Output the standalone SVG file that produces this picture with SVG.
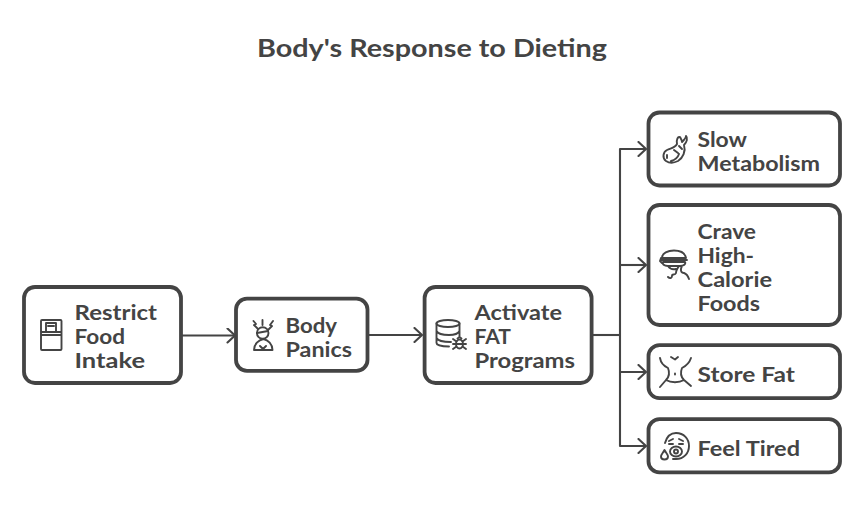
<svg xmlns="http://www.w3.org/2000/svg" width="864" height="521" viewBox="0 0 864 521">
<style>
text{font-family:"Lato","Liberation Sans",sans-serif;font-weight:700;fill:#444;font-size:20px}
.t{font-size:25px}
.box{fill:#fff;stroke:#444;stroke-width:3.8}
.c{fill:none;stroke:#444;stroke-width:2.1;stroke-linejoin:round}
.i{fill:none;stroke:#444;stroke-width:1.9;stroke-linecap:round;stroke-linejoin:round}
</style>
<defs>
<marker id="a" viewBox="0 0 10 16" refX="9.500" refY="8" markerWidth="10" markerHeight="16" markerUnits="userSpaceOnUse" orient="auto"><path d="M2 1L9.500 8L2 15" fill="none" stroke="#444" stroke-width="2.100" stroke-linecap="round"/></marker>
</defs>
<rect width="864" height="521" fill="#fff"/>
<text class="t" x="257" y="57" textLength="350" lengthAdjust="spacingAndGlyphs">Body's Response to Dieting</text>
<g id="connectors">
<path class="c" d="M181 335.500H235" marker-end="url(#a)"/>
<path class="c" d="M369 335H422" marker-end="url(#a)"/>
<path class="c" d="M593 335H620"/>
<path class="c" d="M620 335V149H646" marker-end="url(#a)"/>
<path class="c" d="M620 265H646" marker-end="url(#a)"/>
<path class="c" d="M620 335V372H646" marker-end="url(#a)"/>
<path class="c" d="M620 372V446H646" marker-end="url(#a)"/>
</g>
<g id="n1">
<rect class="box" x="24" y="287" width="157" height="96" rx="11"/>
<path class="i" d="M42 320H60.500Q61.500 320 61.500 321V349Q61.500 350 60.500 350H42Q41 350 41 349V321Q41 320 42 320ZM41 335H61.500M41 332H61.500M46 331V323H56V331M48 326H54"/>
<text x="74.500" y="320" textLength="82.500" lengthAdjust="spacingAndGlyphs">Restrict</text>
<text x="74.500" y="344" textLength="50.500" lengthAdjust="spacingAndGlyphs">Food</text>
<text x="74.500" y="368" textLength="70.500" lengthAdjust="spacingAndGlyphs">Intake</text>
</g>
<g id="n2">
<rect class="box" x="236" y="298.600" width="131.500" height="72.300" rx="11"/>
<path class="i" d="M253.500 321L256 324L254 325L258 329M262.500 320V325M273 321L270 325L272 326L268 330"/>
<circle class="i" cx="262.700" cy="333" r="5.800"/>
<path class="i" d="M257 333L268 331M254 350H272.500C272.500 344 268 340 263.500 339C258.500 340 254 344 254 350ZM260 346L263 349L266 346"/>
<text x="285.500" y="333" textLength="51.500" lengthAdjust="spacingAndGlyphs">Body</text>
<text x="285.500" y="357" textLength="66.500" lengthAdjust="spacingAndGlyphs">Panics</text>
</g>
<g id="n3">
<rect class="box" x="424.600" y="287" width="167" height="96" rx="11"/>
<ellipse class="i" cx="448" cy="323.500" rx="11.500" ry="3.500"/>
<path class="i" d="M436.500 323.500V343C436.500 345 441 346.500 449 346.500M436.500 331C438 334 444 335 449 335C454 335 458 334 459.500 331V323.500M436.500 338C438 341 444 342 451 342M459.500 331V336"/>
<ellipse class="i" cx="459.500" cy="344" rx="3.500" ry="4.500"/>
<path class="i" d="M456 344H463M453 339L456.500 341.500M466 339L462.500 341.500M453 344H456M466 344H463M453 349L456.500 346.500M466 349L462.500 346.500M457.500 338.500L459.500 337L461.500 338.500"/>
<text x="474.500" y="320" textLength="87.500" lengthAdjust="spacingAndGlyphs">Activate</text>
<text x="474.500" y="344" textLength="36.500" lengthAdjust="spacingAndGlyphs">FAT</text>
<text x="474.500" y="368" textLength="100.500" lengthAdjust="spacingAndGlyphs">Programs</text>
</g>
<g id="n4">
<rect class="box" x="648.500" y="112.500" width="191.500" height="73" rx="11"/>
<path class="i" d="M677 144C676 140 678 136 680 137C681 139 682 140 682 142C684 140 686 138 686 136C688 138 687 142 684 145C686 151 683 158 678 161C674 163 669 163 666 161C662 158 663 152 667 150C671 148 675 148 677 144ZM674 150L678 153M679 146L682 149M667 155V158M671 161C675 160 678 157 679 154"/>
<text x="697.500" y="147" textLength="49.500" lengthAdjust="spacingAndGlyphs">Slow</text>
<text x="697.500" y="171" textLength="122.500" lengthAdjust="spacingAndGlyphs">Metabolism</text>
</g>
<g id="n5">
<rect class="box" x="648.500" y="205" width="191.500" height="120" rx="11"/>
<path class="i" d="M662 258C662 253 668 250.500 674 250.500C680 250.500 685 253 686 258ZM661 260H687M663 262H685C686 264 684 266 680 266H668C664 266 662 264 663 262ZM661 258L660 261L662 263M668 266C670 269 672 270 676 269M679 266C677 269 676 271 676 273C675 276 672 273 672 276C672 278 670 279 668 277M682 266C680 270 681 273 684 273C687 274 688 276 689 279"/>
<text x="697.500" y="239" textLength="58.500" lengthAdjust="spacingAndGlyphs">Crave</text>
<text x="697.500" y="263" textLength="56.500" lengthAdjust="spacingAndGlyphs">High-</text>
<text x="697.500" y="287" textLength="74.500" lengthAdjust="spacingAndGlyphs">Calorie</text>
<text x="697.500" y="311" textLength="62.500" lengthAdjust="spacingAndGlyphs">Foods</text>
</g>
<g id="n6">
<rect class="box" x="648.500" y="345.200" width="191.500" height="53" rx="11"/>
<path class="i" d="M660 358C661 364 664 366 668 368C670 373 669 377 666 380L660 387M691 358C689 364 686 366 682 368C680 373 681 377 684 380L691 386M666 380C671 383 679 383 684 380M671 357L675 359.500L678 357M675 373.500V374.500"/>
<text x="697.500" y="382" textLength="97.500" lengthAdjust="spacingAndGlyphs">Store Fat</text>
</g>
<g id="n7">
<rect class="box" x="648.500" y="419.200" width="191.500" height="53.200" rx="11"/>
<path class="i" d="M665 443C667 436 671 433 676 433C684 433 689 439 689 446C689 453 684 459 676 459H673"/>
<path class="i" d="M669 441L673 439M683 441L679 439M669 444H673M679 444H683"/>
<ellipse class="i" cx="676" cy="451.500" rx="6" ry="5"/>
<circle class="i" cx="676" cy="451.500" r="2"/>
<path class="i" d="M664.500 450C666 453 668 454.500 668 456.500C668 459 666 459.500 664.500 459.500C662 459.500 661 458 661 456.500C661 454.500 663 453 664.500 450Z"/>
<text x="697.500" y="456" textLength="102.500" lengthAdjust="spacingAndGlyphs">Feel Tired</text>
</g>
</svg>
